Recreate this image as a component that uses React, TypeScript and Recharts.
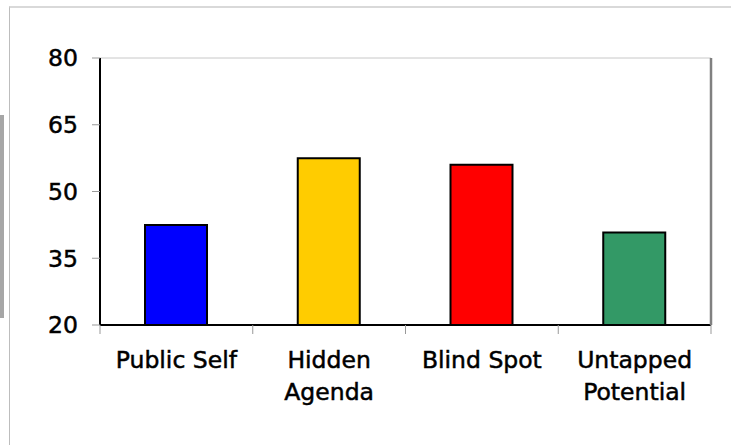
import React from "react";
import { Bar, BarChart, CartesianGrid, Cell, XAxis, YAxis } from "recharts";

const CATEGORIES = ["Public Self", "Hidden Agenda", "Blind Spot", "Untapped Potential"];
const TICK_LINES = [["Public Self"], ["Hidden", "Agenda"], ["Blind Spot"], ["Untapped", "Potential"]];
const SCORES = [42.5, 57.5, 56.0, 40.8];
const BAR_COLORS = ["#0000ff", "#ffcc00", "#ff0000", "#339966"];
const Y_TICKS = [20, 35, 50, 65, 80];

const FONT = "'DejaVu Sans', sans-serif";
const FONT_SIZE = 23.5;
const W = 731;
const H = 445;
const TICK_LEN = 9;

const data = CATEGORIES.map((name, i) => ({ name, score: SCORES[i], lines: TICK_LINES[i] }));

// category labels, plus the small tick marks that sit between the categories
function CategoryTick(props: any) {
  const { x, y, index, payload } = props;
  const count = props.visibleTicksCount ?? CATEGORIES.length;
  const step = (props.width ?? 611) / count;
  const axisY = y - TICK_LEN;
  const lines = TICK_LINES[index] ?? [payload.value];
  return (
    <g>
      {index === 0 && (
        <line x1={x - step / 2} x2={x - step / 2} y1={axisY} y2={y} stroke="#999" strokeWidth={1} />
      )}
      <line x1={x + step / 2} x2={x + step / 2} y1={axisY} y2={y} stroke="#999" strokeWidth={1} />
      <text
        x={x}
        y={y}
        textAnchor="middle"
        fontFamily={FONT}
        fontSize={FONT_SIZE}
        fill="#000"
        stroke="#000"
        strokeWidth={0.5}
      >
        {lines.map((l: string, i: number) => (
          <tspan key={l} x={x} dy={i === 0 ? 33.5 : 32.6}>
            {l}
          </tspan>
        ))}
      </text>
    </g>
  );
}

export default function App() {
  return (
    <div style={{ position: "absolute", left: 0, top: 0, width: W, height: H, background: "#fff" }}>
      {/* outer frame and the grey strip on the left edge */}
      <div
        style={{
          position: "absolute",
          left: 9,
          top: 6,
          width: W - 9,
          height: H - 6,
          borderTop: "2px solid #d9d9d9",
          borderLeft: "1px solid #bdbdbd",
          boxSizing: "border-box",
        }}
      />
      <div style={{ position: "absolute", left: 0, top: 115, width: 4, height: 203, background: "#a6a6a6" }} />
      <div style={{ position: "absolute", left: 0, top: 0 }}>
        <BarChart width={W} height={H} data={data} margin={{ top: 58, right: 0, bottom: 0, left: 0 }}>
          <CartesianGrid vertical={false} stroke="#c8c8c8" strokeWidth={1} />
          <XAxis
            dataKey="name"
            xAxisId="bottom"
            height={120}
            axisLine={{ stroke: "#000", strokeWidth: 2 }}
            tickLine={false}
            tickSize={TICK_LEN}
            tickMargin={0}
            interval={0}
            tick={<CategoryTick />}
          />
          <XAxis
            dataKey="name"
            xAxisId="top"
            orientation="top"
            height={0}
            axisLine={{ stroke: "#808080", strokeWidth: 2.5 }}
            tickLine={false}
            tick={false}
          />
          <YAxis
            yAxisId="left"
            domain={[20, 80]}
            ticks={Y_TICKS}
            width={100}
            axisLine={{ stroke: "#000", strokeWidth: 2 }}
            tickLine={{ stroke: "#999" }}
            tickSize={8}
            tickMargin={14}
            tick={{ fontSize: FONT_SIZE, fill: "#000", stroke: "#000", strokeWidth: 0.5, fontFamily: FONT }}
          />
          <YAxis
            yAxisId="right"
            orientation="right"
            domain={[20, 80]}
            width={20}
            axisLine={{ stroke: "#808080", strokeWidth: 2.5 }}
            tickLine={false}
            tick={false}
          />
          <Bar dataKey="score" xAxisId="bottom" yAxisId="left" barSize={62} isAnimationActive={false}>
            {data.map((d, i) => (
              <Cell key={d.name} fill={BAR_COLORS[i]} stroke="#000" strokeWidth={2} />
            ))}
          </Bar>
        </BarChart>
      </div>
    </div>
  );
}
